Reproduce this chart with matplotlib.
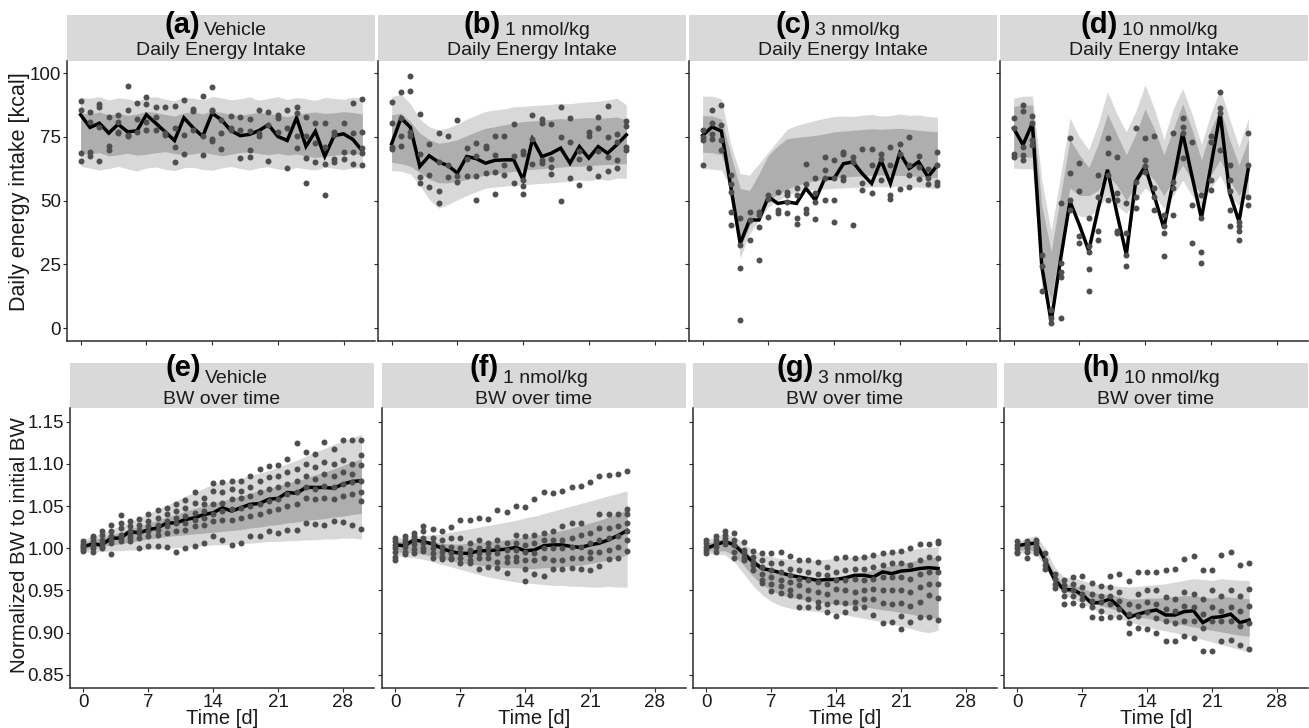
import numpy as np
import matplotlib
matplotlib.use("Agg")
import matplotlib.pyplot as plt

plt.rcParams['font.family'] = ['Liberation Sans', 'DejaVu Sans']

# ---------------- data ----------------
day_ticks = [0, 7, 14, 21, 28]
ei_ticks = [0, 25, 50, 75, 100]
bw_ticks = [0.85, 0.90, 0.95, 1.00, 1.05, 1.10, 1.15]
bw_ticklabels = ["0.85", "0.90", "0.95", "1.00", "1.05", "1.10", "1.15"]

letters_top = ['(a)', '(b)', '(c)', '(d)']
letters_bot = ['(e)', '(f)', '(g)', '(h)']
groups = ['Vehicle', '1 nmol/kg', '3 nmol/kg', '10 nmol/kg']
title_top = 'Daily Energy Intake'
title_bot = 'BW over time'
ylabel_top = 'Daily energy intake [kcal]'
ylabel_bot = 'Normalized BW to initial BW'
xlabel = 'Time [d]'

# ---- (a) Vehicle, daily energy intake (days 0-30)
a_mean = [83.7, 78.7, 80.4, 76.5, 80.0, 77.0, 77.4, 83.7, 80.4, 77.0, 73.6, 82.5, 78.5, 75.2, 84.3, 81.7,
          77.5, 75.5, 76.0, 77.5, 79.8, 75.2, 73.6, 82.5, 71.3, 77.2, 67.4, 75.5, 76.2, 74.0, 69.5]
a_hi90 = [90.5, 90.2, 90.8, 89.5, 90.3, 90.0, 89.0, 90.5, 90.8, 89.8, 89.2, 90.6, 90.2, 89.5, 90.9, 90.3,
          89.6, 90.0, 90.7, 89.4, 90.1, 90.8, 89.7, 90.4, 90.0, 89.3, 90.5, 90.1, 89.8, 90.6, 90.5]
a_lo90 = [63.5, 62.8, 62.0, 62.6, 63.4, 62.5, 61.6, 62.8, 63.2, 62.3, 61.8, 62.9, 63.1, 62.2, 61.9, 62.8,
          63.4, 62.6, 62.0, 62.9, 63.3, 62.4, 62.1, 63.0, 62.5, 62.0, 63.1, 62.7, 62.2, 62.8, 62.9]
a_hi50 = [84.5, 84.0, 84.8, 83.6, 84.2, 83.5, 84.0, 85.0, 84.6, 83.8, 83.2, 84.5, 84.9, 84.0, 85.2, 84.6,
          83.9, 83.4, 84.1, 84.7, 84.2, 83.6, 83.0, 83.8, 84.4, 84.8, 84.2, 84.5, 84.9, 84.6, 84.0]
a_lo50 = [68.5, 68.2, 68.9, 67.5, 68.0, 68.6, 67.8, 68.2, 68.8, 69.2, 68.5, 67.9, 68.4, 69.0, 68.3, 67.6,
          68.2, 68.9, 69.1, 68.5, 68.0, 68.6, 67.9, 68.3, 67.5, 66.9, 67.4, 67.8, 68.2, 68.5, 68.0]
a_pts = [[89.0, 85.4, 68.6, 65.6], [84.7, 81.0, 69.0, 67.6], [88.0, 86.7, 78.8, 65.6], [83.0, 71.5, 69.7],
         [83.7, 80.7, 77.1, 76.7], [95.0, 85.6, 75.8, 75.2], [88.2, 82.0, 77.1], [90.6, 87.8, 80.7, 77.8],
         [86.7, 82.7, 77.8], [86.9, 76.5, 75.8], [87.2, 78.4, 71.2, 65.1], [89.3, 75.8, 68.4],
         [85.9, 85.0, 77.8], [91.2, 75.2, 68.0], [94.4, 85.6, 85.0, 74.2, 73.5], [81.7, 76.5, 70.2],
         [83.3, 78.4, 77.8], [83.0, 77.8, 66.7], [82.0, 77.5, 70.0, 67.3], [85.6, 76.5, 75.2],
         [84.7, 79.7, 65.6], [83.7, 82.4, 77.1], [85.6, 78.4, 62.7], [86.9, 84.3, 75.2, 70.6],
         [83.0, 75.2, 66.7, 56.9], [80.4, 72.5, 65.0], [80.4, 71.2, 64.4, 52.3], [77.1, 75.8, 66.3, 65.0],
         [80.4, 69.0, 66.3], [88.5, 76.5, 69.0, 64.3], [89.9, 77.1, 70.6, 68.6, 63.8]]

# ---- (b) 1 nmol/kg, daily energy intake (days 0-25)
b_mean = [72.3, 82.4, 78.8, 63.4, 67.6, 65.1, 63.8, 60.8, 67.3, 66.5, 64.7, 65.8, 66.0, 66.0, 58.2, 74.1,
          67.3, 68.6, 70.6, 64.7, 71.2, 66.7, 71.2, 68.6, 72.0, 75.8]
b_hi90 = [90.8, 91.8, 88.0, 82.0, 79.0, 77.8, 78.5, 80.0, 82.0, 83.5, 85.0, 85.6, 86.0, 86.9, 87.0, 87.3,
          87.5, 87.8, 88.2, 88.0, 88.5, 88.8, 89.0, 89.5, 90.2, 87.6]
b_lo90 = [61.8, 61.5, 60.5, 56.0, 50.5, 47.0, 48.5, 50.3, 52.0, 53.5, 54.9, 55.3, 55.7, 56.0, 56.2, 56.5,
          56.8, 57.0, 57.3, 57.6, 58.2, 57.8, 58.5, 58.0, 58.8, 58.8]
b_hi50 = [83.7, 84.3, 81.0, 76.5, 74.0, 72.5, 73.0, 73.9, 75.5, 77.0, 78.4, 79.0, 79.8, 80.4, 81.0, 81.3,
          81.6, 81.9, 82.2, 82.0, 82.4, 82.6, 82.3, 82.5, 82.8, 81.7]
b_lo50 = [65.0, 64.5, 63.5, 61.0, 58.5, 57.0, 57.0, 57.5, 58.3, 59.2, 60.0, 60.5, 61.0, 61.5, 62.0, 62.3,
          62.6, 62.9, 63.2, 63.4, 63.5, 63.7, 64.0, 64.2, 64.3, 64.5]
b_pts = [[88.9, 80.4, 71.2, 70.3], [92.8, 82.4, 75.4, 71.6], [99.0, 93.0, 77.1, 75.4], [83.9, 68.4, 59.1, 56.9],
         [72.3, 59.9, 55.2], [76.7, 65.0, 53.6, 49.0], [75.4, 64.0, 59.2], [81.7, 59.5, 57.5],
         [70.7, 66.3, 59.5], [72.8, 67.6, 59.5, 50.3], [71.5, 70.5, 60.8], [75.2, 68.0, 61.4, 52.5],
         [75.4, 64.0, 59.9], [80.0, 67.6, 57.1], [69.3, 68.4, 58.2, 55.8, 52.5], [83.5, 74.1, 64.3],
         [82.0, 80.4, 65.8, 64.7], [80.0, 66.3, 63.0, 60.4], [86.7, 74.9, 49.9], [82.4, 73.2, 58.8],
         [69.3, 66.3, 56.0], [77.1, 75.2, 62.7], [83.0, 78.4, 69.3, 59.7], [87.3, 74.9, 67.3, 61.8],
         [76.1, 73.2, 66.0, 62.7], [81.3, 79.1, 71.2, 69.9]]

# ---- (c) 3 nmol/kg, daily energy intake (days 0-25)
c_mean = [75.6, 78.9, 77.3, 55.4, 33.2, 42.4, 42.4, 51.5, 48.9, 49.5, 48.9, 54.8, 50.2, 58.7, 58.7, 64.5,
          65.2, 60.6, 56.7, 65.8, 56.7, 68.7, 62.6, 65.2, 59.3, 63.9]
c_hi90 = [91.0, 91.0, 90.0, 72.0, 60.6, 60.0, 64.5, 69.0, 73.5, 78.0, 79.5, 80.5, 81.5, 82.3, 83.0, 83.2,
          83.0, 83.5, 83.8, 83.2, 83.4, 84.0, 83.5, 83.6, 83.0, 82.8]
c_lo90 = [62.6, 62.4, 62.0, 55.0, 27.4, 37.0, 42.5, 47.6, 50.0, 52.0, 53.5, 54.0, 54.3, 54.6, 54.8, 55.0,
          55.2, 55.3, 55.4, 55.5, 55.4, 55.6, 55.5, 55.3, 55.0, 54.8]
c_hi50 = [83.4, 83.2, 82.0, 68.0, 54.8, 54.0, 60.5, 67.8, 71.5, 74.3, 74.8, 75.2, 75.6, 76.2, 77.0, 77.3,
          77.6, 77.9, 78.2, 78.0, 78.2, 78.4, 78.0, 77.6, 77.3, 77.0]
c_lo50 = [69.0, 68.8, 68.0, 58.0, 31.5, 40.0, 45.5, 50.0, 52.5, 54.5, 56.0, 57.0, 57.8, 58.5, 59.0, 59.3,
          59.5, 59.7, 60.0, 60.1, 60.0, 59.9, 59.7, 59.5, 59.2, 59.0]
c_pts = [[77.6, 75.0, 73.7, 63.9], [85.7, 80.4, 76.3, 74.3], [87.6, 79.5, 73.9, 69.8],
         [60.2, 56.7, 53.5, 45.6, 40.4], [43.0, 32.6, 23.5, 3.3], [45.6, 42.4, 34.6],
         [45.6, 44.3, 39.8, 26.7], [52.2, 50.8, 43.4], [53.5, 46.3, 45.0], [53.5, 52.2, 49.5, 45.0],
         [55.0, 52.2, 43.0, 41.0], [64.5, 56.7, 46.9, 45.0], [58.7, 52.8, 49.5, 42.8], [67.1, 61.9, 58.7, 50.2],
         [65.8, 58.7, 50.4, 41.7], [69.1, 68.2, 59.3, 58.0], [67.1, 65.2, 40.3], [70.1, 57.0, 54.1],
         [70.1, 63.9, 52.8], [68.2, 66.5, 58.0], [71.1, 63.9, 52.2, 50.5], [72.4, 68.4, 54.4],
         [75.0, 63.9, 60.0, 55.2], [67.4, 63.2, 58.3], [62.6, 58.7, 56.7], [69.1, 63.9, 57.4, 56.1]]

# ---- (d) 10 nmol/kg, daily energy intake (days 0-25)
d_mean = [78.4, 71.9, 80.4, 24.2, 2.5, 27.0, 49.7, 40.5, 30.3, 46.7, 62.1, 45.0, 28.8, 57.5, 63.4, 51.6,
          39.2, 57.5, 76.5, 59.5, 43.1, 63.4, 84.3, 53.0, 41.8, 62.7]
d_hi90 = [90.2, 91.0, 91.0, 58.0, 38.0, 60.0, 82.4, 75.0, 70.0, 80.0, 92.8, 84.0, 77.0, 85.0, 95.4, 86.0,
          74.0, 86.0, 94.0, 84.0, 72.0, 84.0, 94.0, 82.0, 71.0, 82.4]
d_lo90 = [62.7, 62.5, 62.5, 16.0, 9.0, 28.0, 47.0, 44.0, 43.4, 47.0, 52.0, 48.0, 45.0, 50.0, 55.0, 52.0,
          47.0, 52.0, 58.0, 52.0, 48.0, 55.0, 60.0, 52.0, 48.0, 53.0]
d_hi50 = [87.0, 87.5, 87.5, 48.0, 30.0, 52.0, 74.0, 68.0, 63.0, 72.0, 84.0, 76.0, 68.0, 76.0, 86.0, 78.0,
          68.0, 78.0, 88.0, 78.0, 66.0, 78.0, 86.0, 74.0, 64.0, 74.0]
d_lo50 = [67.0, 67.0, 67.0, 22.0, 11.0, 33.0, 55.0, 52.0, 52.0, 54.0, 60.0, 56.0, 50.0, 56.0, 62.0, 58.0,
          52.0, 58.0, 64.0, 58.0, 52.0, 60.0, 66.0, 58.0, 52.0, 58.0]
d_pts = [[82.4, 78.4, 68.4, 67.3], [87.6, 85.0, 71.2, 68.0, 66.0], [83.3, 80.4, 73.9, 71.9],
         [28.8, 24.2, 14.4], [7.2, 3.9, 2.0], [49.0, 25.5, 22.0, 20.0, 4.0], [74.5, 60.8, 50.3, 46.4],
         [64.7, 53.6, 36.0, 33.3], [43.0, 32.0, 30.0, 23.0, 14.4], [60.0, 51.6, 38.0, 34.6],
         [74.5, 68.6, 60.0, 50.3], [67.3, 53.0, 50.3, 38.0, 37.3], [49.0, 37.3, 28.8, 24.2],
         [78.4, 57.5, 51.6, 47.0], [74.5, 66.0, 63.4, 61.4], [75.2, 54.9, 51.6, 46.4],
         [44.4, 39.9, 37.3, 28.1], [76.5, 57.5, 55.0, 44.4], [82.4, 79.0, 76.5, 66.7], [73.2, 48.4, 33.3],
         [52.3, 43.0, 30.0, 25.5], [75.2, 73.2, 58.2, 54.2], [92.8, 86.3, 84.3, 70.0],
         [64.0, 58.0, 53.6, 46.4, 40.0], [41.8, 40.0, 38.0, 34.6], [76.5, 64.0, 51.6, 48.4]]

# ---- (e) Vehicle, BW (days 0-30)
e_mean = [1.002, 1.005, 1.004, 1.012, 1.012, 1.020, 1.018, 1.022, 1.024, 1.030, 1.030, 1.034, 1.036, 1.040,
          1.042, 1.048, 1.044, 1.048, 1.052, 1.053, 1.058, 1.059, 1.066, 1.065, 1.072, 1.072, 1.072, 1.071,
          1.076, 1.079, 1.080]
e_hi90 = [1.011, 1.014, 1.018, 1.022, 1.027, 1.031, 1.036, 1.041, 1.046, 1.051, 1.056, 1.062, 1.066, 1.071,
          1.076, 1.078, 1.080, 1.083, 1.086, 1.089, 1.092, 1.096, 1.100, 1.104, 1.109, 1.114, 1.118, 1.123,
          1.127, 1.131, 1.135]
e_lo90 = [0.995, 0.996, 0.996, 0.997, 0.997, 0.998, 0.998, 0.999, 0.999, 1.000, 1.001, 1.001, 1.002, 1.003,
          1.004, 1.004, 1.005, 1.006, 1.006, 1.007, 1.008, 1.008, 1.009, 1.009, 1.010, 1.010, 1.011, 1.011,
          1.012, 1.012, 1.011]
e_hi50 = [1.007, 1.010, 1.013, 1.016, 1.019, 1.023, 1.026, 1.030, 1.033, 1.037, 1.040, 1.044, 1.047, 1.050,
          1.054, 1.056, 1.059, 1.062, 1.065, 1.068, 1.071, 1.074, 1.077, 1.080, 1.083, 1.087, 1.090, 1.094,
          1.098, 1.102, 1.106]
e_lo50 = [0.998, 1.000, 1.002, 1.004, 1.005, 1.007, 1.009, 1.011, 1.012, 1.014, 1.015, 1.016, 1.017, 1.018,
          1.019, 1.020, 1.021, 1.022, 1.024, 1.025, 1.027, 1.028, 1.030, 1.031, 1.033, 1.034, 1.035, 1.037,
          1.038, 1.040, 1.041]
e_pts = [[1.008, 1.005, 1.003, 1.001, 0.999, 0.997], [1.015, 1.012, 1.008, 1.004, 1.000, 0.996],
         [1.021, 1.016, 1.010, 1.006, 1.002, 1.000], [1.027, 1.020, 1.014, 1.010, 1.006, 0.993],
         [1.039, 1.030, 1.024, 1.016, 1.012, 1.008], [1.032, 1.026, 1.020, 1.016, 1.012, 1.008],
         [1.035, 1.028, 1.022, 1.018, 1.012, 1.000], [1.040, 1.032, 1.026, 1.020, 1.014, 1.003],
         [1.045, 1.036, 1.028, 1.022, 1.016, 1.003], [1.048, 1.040, 1.032, 1.026, 1.018, 1.002],
         [1.052, 1.044, 1.036, 1.030, 1.020, 0.996], [1.057, 1.048, 1.038, 1.030, 1.022, 1.000],
         [1.066, 1.054, 1.042, 1.034, 1.026, 1.003], [1.060, 1.052, 1.044, 1.036, 1.028, 1.006],
         [1.077, 1.068, 1.052, 1.040, 1.032, 1.014], [1.078, 1.066, 1.054, 1.044, 1.034, 1.010],
         [1.080, 1.070, 1.058, 1.046, 1.034, 1.004], [1.080, 1.068, 1.060, 1.048, 1.036, 1.006],
         [1.085, 1.072, 1.062, 1.050, 1.038, 1.014], [1.094, 1.080, 1.066, 1.052, 1.040, 1.014],
         [1.097, 1.084, 1.070, 1.056, 1.044, 1.020], [1.099, 1.086, 1.072, 1.058, 1.046, 1.018],
         [1.106, 1.090, 1.076, 1.064, 1.050, 1.022], [1.124, 1.094, 1.080, 1.066, 1.052, 1.022],
         [1.114, 1.100, 1.086, 1.072, 1.060, 1.030], [1.112, 1.096, 1.082, 1.070, 1.058, 1.029],
         [1.126, 1.102, 1.088, 1.074, 1.060, 1.028], [1.118, 1.100, 1.086, 1.072, 1.058, 1.032],
         [1.128, 1.104, 1.090, 1.076, 1.062, 1.031], [1.128, 1.100, 1.088, 1.078, 1.064, 1.028],
         [1.128, 1.110, 1.098, 1.080, 1.066, 1.056, 1.023]]

# ---- (f) 1 nmol/kg, BW (days 0-25)
f_mean = [1.004, 1.003, 1.010, 1.008, 1.005, 1.000, 0.996, 0.994, 0.994, 0.997, 0.997, 0.998, 0.999, 1.001,
          0.997, 0.998, 1.003, 1.004, 1.004, 1.002, 1.001, 1.004, 1.006, 1.010, 1.015, 1.021]
f_hi90 = [1.012, 1.013, 1.014, 1.015, 1.016, 1.017, 1.019, 1.021, 1.023, 1.025, 1.027, 1.029, 1.031, 1.033,
          1.036, 1.038, 1.041, 1.044, 1.047, 1.050, 1.053, 1.056, 1.059, 1.062, 1.065, 1.068]
f_lo90 = [0.992, 0.990, 0.989, 0.987, 0.984, 0.981, 0.978, 0.975, 0.972, 0.969, 0.966, 0.964, 0.962, 0.960,
          0.959, 0.958, 0.957, 0.956, 0.956, 0.955, 0.955, 0.954, 0.954, 0.955, 0.954, 0.954]
f_hi50 = [1.008, 1.009, 1.010, 1.010, 1.008, 1.006, 1.005, 1.005, 1.006, 1.007, 1.008, 1.009, 1.010, 1.012,
          1.013, 1.015, 1.017, 1.019, 1.021, 1.024, 1.027, 1.030, 1.033, 1.037, 1.041, 1.046]
f_lo50 = [0.996, 0.995, 0.995, 0.993, 0.990, 0.988, 0.985, 0.983, 0.981, 0.980, 0.979, 0.978, 0.977, 0.977,
          0.976, 0.976, 0.977, 0.977, 0.978, 0.979, 0.980, 0.982, 0.984, 0.986, 0.989, 0.992]
f_pts = [[1.012, 1.008, 1.004, 1.000, 0.996, 0.990, 0.986], [1.014, 1.010, 1.006, 1.002, 0.996, 0.993],
         [1.018, 1.014, 1.010, 1.005, 0.999, 0.994], [1.026, 1.020, 1.012, 1.006, 1.000, 0.997],
         [1.023, 1.012, 1.006, 1.000, 0.994, 0.989], [1.020, 1.010, 1.002, 0.996, 0.990, 0.987],
         [1.025, 1.012, 1.002, 0.994, 0.988, 0.987], [1.033, 1.012, 1.000, 0.994, 0.988, 0.983],
         [1.033, 1.006, 0.998, 0.992, 0.986, 0.982], [1.036, 1.010, 1.000, 0.994, 0.988, 0.975],
         [1.035, 1.006, 1.000, 0.994, 0.988, 0.978], [1.045, 1.010, 1.002, 0.994, 0.984, 0.977],
         [1.043, 1.006, 0.998, 0.990, 0.984, 0.971], [1.050, 1.016, 1.006, 0.998, 0.990, 0.985],
         [1.049, 1.014, 1.004, 0.996, 0.986, 0.975, 0.961], [1.058, 1.016, 1.006, 0.994, 0.986, 0.969],
         [1.067, 1.018, 1.010, 1.000, 0.988, 0.967], [1.065, 1.020, 1.010, 1.000, 0.986, 0.975],
         [1.068, 1.026, 1.010, 1.000, 0.986, 0.975], [1.072, 1.030, 1.012, 1.002, 0.988, 0.977],
         [1.074, 1.030, 1.016, 1.002, 0.988, 0.975], [1.079, 1.018, 1.006, 0.996, 0.988, 0.974],
         [1.085, 1.040, 1.024, 1.010, 0.996, 0.979], [1.087, 1.040, 1.024, 1.012, 0.998, 0.987],
         [1.088, 1.040, 1.026, 1.014, 1.002, 0.989], [1.092, 1.046, 1.040, 1.030, 1.020, 1.010, 0.997]]

# ---- (g) 3 nmol/kg, BW (days 0-25)
g_mean = [1.000, 1.004, 1.008, 1.004, 0.994, 0.984, 0.976, 0.974, 0.971, 0.968, 0.966, 0.964, 0.962, 0.963,
          0.963, 0.965, 0.968, 0.968, 0.966, 0.972, 0.970, 0.973, 0.974, 0.976, 0.977, 0.976]
g_hi90 = [1.010, 1.014, 1.017, 1.014, 1.006, 0.998, 0.993, 0.990, 0.988, 0.987, 0.986, 0.986, 0.986, 0.987,
          0.988, 0.989, 0.990, 0.991, 0.992, 0.994, 0.996, 0.997, 0.998, 1.000, 1.001, 1.002]
g_lo90 = [0.994, 0.993, 0.992, 0.984, 0.970, 0.956, 0.945, 0.937, 0.932, 0.929, 0.927, 0.926, 0.925, 0.924,
          0.923, 0.921, 0.919, 0.917, 0.915, 0.913, 0.910, 0.908, 0.905, 0.902, 0.900, 0.903]
g_hi50 = [1.006, 1.009, 1.011, 1.008, 0.998, 0.988, 0.980, 0.975, 0.971, 0.968, 0.966, 0.965, 0.964, 0.965,
          0.966, 0.968, 0.970, 0.972, 0.974, 0.977, 0.980, 0.982, 0.984, 0.986, 0.988, 0.990]
g_lo50 = [0.997, 0.997, 0.997, 0.991, 0.980, 0.967, 0.957, 0.950, 0.945, 0.942, 0.940, 0.938, 0.937, 0.935,
          0.934, 0.933, 0.932, 0.931, 0.929, 0.927, 0.926, 0.924, 0.922, 0.920, 0.918, 0.917]
g_pts = [[1.010, 1.006, 1.002, 0.998, 0.994], [1.015, 1.010, 1.006, 1.002, 0.996],
         [1.020, 1.016, 1.012, 1.008, 1.005], [1.018, 1.010, 1.004, 0.996, 0.988],
         [1.007, 0.998, 0.994, 0.990, 0.986], [0.997, 0.990, 0.984, 0.980, 0.974],
         [0.994, 0.986, 0.978, 0.970, 0.962, 0.959], [0.994, 0.982, 0.974, 0.966, 0.958, 0.949],
         [0.995, 0.982, 0.972, 0.962, 0.955, 0.947], [0.991, 0.976, 0.968, 0.960, 0.950, 0.945],
         [0.986, 0.974, 0.964, 0.956, 0.944, 0.931], [0.986, 0.972, 0.962, 0.950, 0.940, 0.931],
         [0.984, 0.970, 0.960, 0.948, 0.936, 0.931], [0.978, 0.968, 0.958, 0.946, 0.934, 0.925],
         [0.988, 0.972, 0.962, 0.952, 0.936, 0.920], [0.990, 0.974, 0.962, 0.950, 0.935, 0.925],
         [0.989, 0.976, 0.964, 0.948, 0.936, 0.929], [0.990, 0.976, 0.962, 0.950, 0.940, 0.931],
         [0.992, 0.978, 0.964, 0.952, 0.940, 0.921], [0.994, 0.980, 0.966, 0.950, 0.935, 0.911],
         [0.996, 0.982, 0.966, 0.950, 0.934, 0.913], [0.997, 0.982, 0.966, 0.950, 0.935, 0.920, 0.904],
         [1.000, 0.980, 0.964, 0.948, 0.932, 0.913], [1.005, 0.986, 0.970, 0.954, 0.936, 0.919],
         [1.005, 0.990, 0.972, 0.958, 0.945, 0.919], [1.008, 1.006, 0.988, 0.972, 0.958, 0.941, 0.915]]

# ---- (h) 10 nmol/kg, BW (days 0-25)
h_mean = [1.003, 1.005, 1.006, 0.985, 0.963, 0.951, 0.951, 0.945, 0.935, 0.936, 0.940, 0.930, 0.918, 0.922,
          0.925, 0.927, 0.921, 0.921, 0.925, 0.926, 0.912, 0.918, 0.919, 0.922, 0.912, 0.915]
h_hi90 = [1.008, 1.012, 1.015, 1.000, 0.978, 0.966, 0.965, 0.962, 0.958, 0.957, 0.956, 0.955, 0.954, 0.955,
          0.956, 0.957, 0.958, 0.960, 0.962, 0.964, 0.963, 0.962, 0.964, 0.963, 0.962, 0.962]
h_lo90 = [0.995, 0.994, 0.993, 0.978, 0.958, 0.945, 0.940, 0.935, 0.929, 0.924, 0.920, 0.917, 0.913, 0.910,
          0.907, 0.904, 0.902, 0.900, 0.897, 0.895, 0.892, 0.889, 0.886, 0.883, 0.880, 0.877]
h_hi50 = [1.005, 1.008, 1.010, 0.992, 0.970, 0.958, 0.956, 0.953, 0.948, 0.946, 0.945, 0.943, 0.940, 0.940,
          0.941, 0.941, 0.942, 0.943, 0.944, 0.944, 0.942, 0.941, 0.943, 0.942, 0.941, 0.940]
h_lo50 = [0.998, 0.998, 0.997, 0.983, 0.962, 0.950, 0.946, 0.942, 0.936, 0.932, 0.929, 0.926, 0.922, 0.919,
          0.917, 0.915, 0.913, 0.911, 0.909, 0.907, 0.905, 0.903, 0.901, 0.899, 0.897, 0.896]
h_pts = [[1.008, 1.004, 1.000, 0.996, 0.994], [1.008, 1.004, 1.000, 0.996, 0.988],
         [1.010, 1.006, 1.002, 0.998, 0.994], [0.994, 0.986, 0.980, 0.975], [0.970, 0.964, 0.958, 0.953],
         [0.963, 0.956, 0.950, 0.944, 0.934], [0.966, 0.958, 0.950, 0.944, 0.935],
         [0.967, 0.954, 0.946, 0.940, 0.933], [0.959, 0.946, 0.938, 0.930, 0.919],
         [0.955, 0.944, 0.936, 0.926, 0.917], [0.967, 0.954, 0.944, 0.934, 0.919],
         [0.970, 0.948, 0.938, 0.928, 0.919], [0.961, 0.934, 0.922, 0.912, 0.900],
         [0.972, 0.946, 0.932, 0.920, 0.906], [0.972, 0.950, 0.936, 0.924, 0.904],
         [0.972, 0.950, 0.934, 0.918, 0.900], [0.974, 0.942, 0.928, 0.914, 0.890],
         [0.976, 0.940, 0.926, 0.912, 0.890], [0.987, 0.948, 0.932, 0.914, 0.896],
         [0.991, 0.946, 0.930, 0.914, 0.894], [0.974, 0.940, 0.922, 0.906, 0.878],
         [0.974, 0.950, 0.930, 0.914, 0.878], [0.992, 0.944, 0.926, 0.914, 0.890],
         [0.996, 0.950, 0.930, 0.914, 0.892], [0.980, 0.944, 0.926, 0.908, 0.885],
         [0.982, 0.952, 0.932, 0.912, 0.881]]

top_panels = [(a_mean, a_hi90, a_lo90, a_hi50, a_lo50, a_pts),
              (b_mean, b_hi90, b_lo90, b_hi50, b_lo50, b_pts),
              (c_mean, c_hi90, c_lo90, c_hi50, c_lo50, c_pts),
              (d_mean, d_hi90, d_lo90, d_hi50, d_lo50, d_pts)]
bot_panels = [(e_mean, e_hi90, e_lo90, e_hi50, e_lo50, e_pts),
              (f_mean, f_hi90, f_lo90, f_hi50, f_lo50, f_pts),
              (g_mean, g_hi90, g_lo90, g_hi50, g_lo50, g_pts),
              (h_mean, h_hi90, h_lo90, h_hi50, h_lo50, h_pts)]

# ---------------- styling / layout ----------------
W, H = 1309, 728
fig = plt.figure(figsize=(W / 100, H / 100), dpi=100)

C_OUT = '#D8D8D8'
C_IN = '#AEAEAE'
C_PT = '#4F4F4F'
C_STRIP = '#D9D9D9'
C_AX = '#2B2B2B'
TXT = '#1A1A1A'

FS_TICK = 13.5
FS_STRIP = 14
FS_LETTER = 21
FS_YLAB_TOP = 15.5
FS_YLAB_BOT = 14.8
FS_XLAB = 14.5


def px_axes(l, t, r, b):
    return fig.add_axes([l / W, 1 - b / H, (r - l) / W, (b - t) / H])


def fx(x):
    return x / W


def fy(y):
    return 1 - y / H


def style_axes(ax):
    for s in ['top', 'right']:
        ax.spines[s].set_visible(False)
    for s in ['left', 'bottom']:
        ax.spines[s].set_color(C_AX)
        ax.spines[s].set_linewidth(1.1)
    ax.tick_params(axis='both', length=3, width=0.8, color=C_AX, labelsize=FS_TICK,
                   labelcolor=TXT, pad=1.2)
    ax.set_xlim(-1.45, 31.35)
    ax.set_xticks(day_ticks)


def draw_panel(ax, data):
    mean, hi90, lo90, hi50, lo50, pts = data
    x = np.arange(len(mean))
    ax.fill_between(x, lo90, hi90, color=C_OUT, lw=0, zorder=1)
    ax.fill_between(x, lo50, hi50, color=C_IN, lw=0, zorder=2)
    ax.plot(x, mean, color='black', lw=2.5, zorder=3, solid_joinstyle='miter')
    px = [i for i, ys in enumerate(pts) for _ in ys]
    py = [v for ys in pts for v in ys]
    ax.plot(px, py, 'o', ms=4.3, mew=0, color=C_PT, zorder=4)


top_lefts = [67, 378, 689, 1000]
top_w = 308
bot_lefts = [70, 382, 693, 1004]
bot_w = 304

strips = []

for i in range(4):
    l = top_lefts[i]
    ax = px_axes(l, 61, l + top_w, 341)
    style_axes(ax)
    draw_panel(ax, top_panels[i])
    ax.set_ylim(-5.1, 104.8)
    ax.set_yticks(ei_ticks)
    ax.set_xticklabels([])
    if i > 0:
        ax.set_yticklabels([])
    sax = px_axes(l, 15, l + top_w, 61)
    strips.append((sax, l, l + top_w, 33, 35, 55, letters_top[i], groups[i], title_top))

for i in range(4):
    l = bot_lefts[i]
    ax = px_axes(l, 408, l + bot_w, 688)
    style_axes(ax)
    draw_panel(ax, bot_panels[i])
    ax.set_ylim(0.8346, 1.166)
    ax.set_yticks(bw_ticks)
    if i == 0:
        ax.set_yticklabels(bw_ticklabels)
    else:
        ax.set_yticklabels([])
    ax.tick_params(axis='x', pad=1.5)
    fig.text(fx(l + bot_w / 2), fy(724), xlabel, ha='center', va='baseline',
             fontsize=FS_XLAB, color=TXT)
    sax = px_axes(l, 363, l + bot_w, 408)
    strips.append((sax, l, l + bot_w, 376, 383, 404, letters_bot[i], groups[i], title_bot))

for (sax, l, r, b1, b2, b3, letter, grp, ttl) in strips:
    sax.set_facecolor(C_STRIP)
    sax.set_xticks([])
    sax.set_yticks([])
    for s in sax.spines.values():
        s.set_visible(False)
    sax.set_zorder(-1)

fig.canvas.draw()
renderer = fig.canvas.get_renderer()

for (sax, l, r, b1, b2, b3, letter, grp, ttl) in strips:
    cx = (l + r) / 2
    t1 = fig.text(0, fy(b1), letter, fontsize=FS_LETTER, fontweight='bold', color='black',
                  ha='left', va='baseline')
    t2 = fig.text(0, fy(b2), grp, fontsize=FS_STRIP, color=TXT, ha='left', va='baseline')
    w1 = t1.get_window_extent(renderer).width
    w2 = t2.get_window_extent(renderer).width
    gap = 4
    x0 = cx - 5 - (w1 + gap + w2) / 2
    t1.set_x(fx(x0))
    t2.set_x(fx(x0 + w1 + gap))
    fig.text(fx(cx), fy(b3), ttl, fontsize=FS_STRIP, color=TXT, ha='center', va='baseline')

fig.text(fx(20), fy(192), ylabel_top, rotation=90, ha='center', va='center',
         fontsize=FS_YLAB_TOP, color=TXT)
fig.text(fx(20), fy(545), ylabel_bot, rotation=90, ha='center', va='center',
         fontsize=FS_YLAB_BOT, color=TXT)

fig.savefig('out.png', dpi=100, facecolor='white')
